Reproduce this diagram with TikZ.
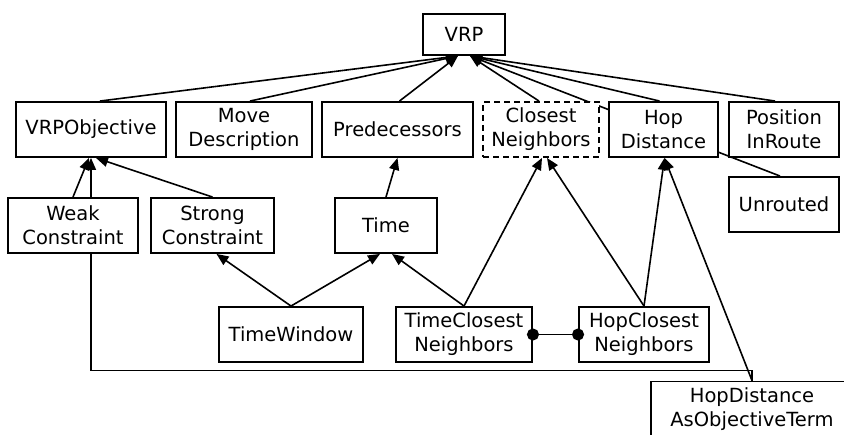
\documentclass[tikz,border=0pt]{standalone}
\usepackage{fontspec}
\setmainfont{DejaVu Sans}
\usetikzlibrary{arrows.meta,backgrounds}
\tikzset{
  cls/.style={draw,fill=white,line width=1.9pt,align=center,inner sep=2pt,
              font=\fontsize{19.5}{24}\selectfont,minimum height=55pt},
  clsd/.style={cls,dash pattern=on 6pt off 4pt},
  inh/.style={-{Triangle[length=12pt,width=10pt]},line width=1.6pt},
  assoc/.style={{Circle[length=12pt]}-{Circle[length=12pt]},line width=1.6pt,
                shorten <=-6pt,shorten >=-6pt},
}

\begin{document}
\begin{tikzpicture}[x=1pt,y=-1pt]
  \useasboundingbox (0,0) rectangle (844,435);

  % top row
  \node[cls,minimum width=82pt,minimum height=41pt] (vrp) at (464,34.5) {VRP};
  \node[cls,minimum width=150pt] (vrpobj)     at (91,129.5)  {VRPObjective};
  \node[cls,minimum width=136pt] (movedesc)   at (244,129.5) {Move\\Description};
  \node[cls,minimum width=151pt] (pred)       at (397.5,129.5) {Predecessors};
  \node[clsd,minimum width=116pt] (closest)   at (541,129.5) {Closest\\Neighbors};
  \node[cls,minimum width=109pt] (hopdist)    at (663.5,129.5) {Hop\\Distance};
  \node[cls,minimum width=110pt] (posinroute) at (784,129.5) {Position\\InRoute};
  \node[cls,minimum width=110pt] (unrouted)   at (784,204.5) {Unrouted};

  % second row
  \node[cls,minimum width=130pt] (weak)   at (73,225.5)    {Weak\\Constraint};
  \node[cls,minimum width=123pt] (strong) at (212.5,225.5) {Strong\\Constraint};
  \node[cls,minimum width=102pt] (time)   at (386,225.5)   {Time};

  % third row
  \node[cls,minimum width=144pt] (timewin) at (291,334.5) {TimeWindow};
  \node[cls,minimum width=136pt] (tcn)     at (464,334.5) {TimeClosest\\Neighbors};
  \node[cls,minimum width=130pt] (hcn)     at (644,334.5) {HopClosest\\Neighbors};
  \node[cls,minimum width=202pt] (hdaot)   at (752,409)   {HopDistance\\AsObjectiveTerm};

  \begin{scope}[on background layer]
    % into VRP
    \draw[inh] ([xshift=9pt]vrpobj.north)      -- ([xshift=-6pt]vrp.south);
    \draw[inh] ([xshift=6pt]movedesc.north)    -- ([xshift=-6pt]vrp.south);
    \draw[inh] ([xshift=2pt]pred.north)        -- ([xshift=-6pt]vrp.south);
    \draw[inh] ([xshift=-2pt]closest.north)    -- ([xshift=6pt]vrp.south);
    \draw[inh] ([xshift=-4pt]unrouted.north)   -- ([xshift=6pt]vrp.south);
    \draw[inh] ([xshift=-4pt]hopdist.north)    -- ([xshift=6pt]vrp.south);
    \draw[inh] ([xshift=-9pt]posinroute.north) -- ([xshift=6pt]vrp.south);

    % objectives
    \draw[inh] (weak.north)   -- ([xshift=-2pt]vrpobj.south);
    \draw[inh] (strong.north) -- ([xshift=5pt]vrpobj.south);
    \draw[inh] (hdaot.north) -- ++(0,-10) -| (vrpobj.south);

    % time and neighbours
    \draw[inh] (time.north)    -- (pred.south);
    \draw[inh] (timewin.north) -- ([xshift=4pt]strong.south);
    \draw[inh] (timewin.north) -- ([xshift=-6pt]time.south);
    \draw[inh] (tcn.north)     -- ([xshift=6pt]time.south);
    \draw[inh] (tcn.north)     -- ([xshift=1pt]closest.south);
    \draw[inh] (hcn.north)     -- ([xshift=6pt]closest.south);
    \draw[inh] (hcn.north)     -- ([xshift=1pt]hopdist.south);
    \draw[inh] (hdaot.north)   -- ([xshift=1pt]hopdist.south);
  \end{scope}

  \draw[assoc] (tcn.east) -- (hcn.west);
\end{tikzpicture}
\end{document}
